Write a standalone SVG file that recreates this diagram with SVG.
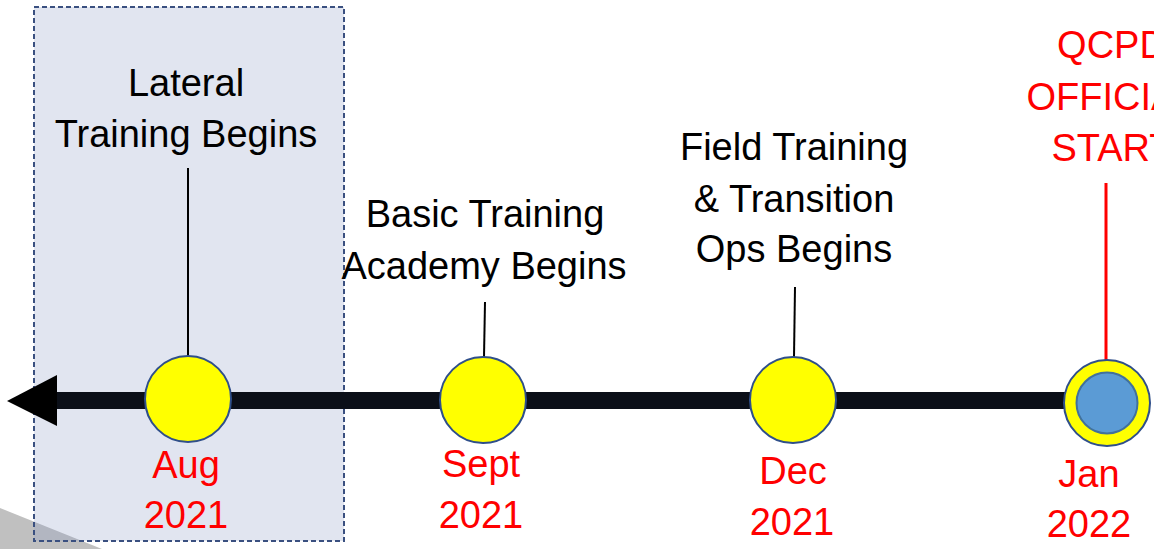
<svg xmlns="http://www.w3.org/2000/svg" width="1154" height="549" viewBox="0 0 1154 549">
<style>
.lbl{font-family:"Liberation Sans",Arial,sans-serif;font-size:38px;fill:#000;text-anchor:middle}
.red{font-family:"Liberation Sans",Arial,sans-serif;font-size:38px;fill:#ff0000;text-anchor:middle}
.dot{fill:#ffff00;stroke:#2f4f8a;stroke-width:2}
.tick{stroke:#000;stroke-width:2}
</style>
<rect x="0" y="0" width="1154" height="549" fill="#ffffff"/>
<polygon points="0,508 102,549 0,549" fill="#c0c0c0"/>
<rect id="lateral-period" x="34" y="7" width="310" height="534" fill="#8797c3" fill-opacity="0.25" stroke="#3a5080" stroke-width="2" stroke-dasharray="5,3"/>
<g id="connectors">
<rect x="50" y="392" width="1057" height="17" fill="#0b0f18"/>
<polygon points="7,401 57,375 57,426" fill="#000"/>
<line class="tick" x1="188" y1="168" x2="188" y2="356"/>
<line class="tick" x1="485" y1="302" x2="484" y2="357"/>
<line class="tick" x1="795" y1="287" x2="794" y2="357"/>
<line x1="1106" y1="183" x2="1106" y2="360" stroke="#ff0000" stroke-width="3"/>
</g>
<g id="node-aug">
<circle class="dot" cx="188" cy="399" r="43"/>
<text class="lbl" x="186" y="96">Lateral</text>
<text class="lbl" x="186" y="147">Training Begins</text>
<text class="red" x="186" y="478">Aug</text>
<text class="red" x="186" y="528">2021</text>
</g>
<g id="node-sept">
<circle class="dot" cx="483" cy="400" r="43"/>
<text class="lbl" x="485" y="227">Basic Training</text>
<text class="lbl" x="484" y="279">Academy Begins</text>
<text class="red" x="481" y="477">Sept</text>
<text class="red" x="481" y="528">2021</text>
</g>
<g id="node-dec">
<circle class="dot" cx="793" cy="400" r="43"/>
<text class="lbl" x="794" y="160">Field Training</text>
<text class="lbl" x="794" y="212">&amp; Transition</text>
<text class="lbl" x="794" y="262">Ops Begins</text>
<text class="red" x="793" y="484">Dec</text>
<text class="red" x="792" y="535">2021</text>
</g>
<g id="node-jan">
<circle class="dot" cx="1107" cy="403" r="43"/>
<circle cx="1107" cy="403" r="30.5" fill="#5b9bd5" stroke="#41719c" stroke-width="2"/>
<text class="red" x="1112" y="58">QCPD</text>
<text class="red" x="1112" y="110">OFFICIAL</text>
<text class="red" x="1112" y="161">START</text>
<text class="red" x="1089" y="487">Jan</text>
<text class="red" x="1089" y="537">2022</text>
</g>
</svg>
